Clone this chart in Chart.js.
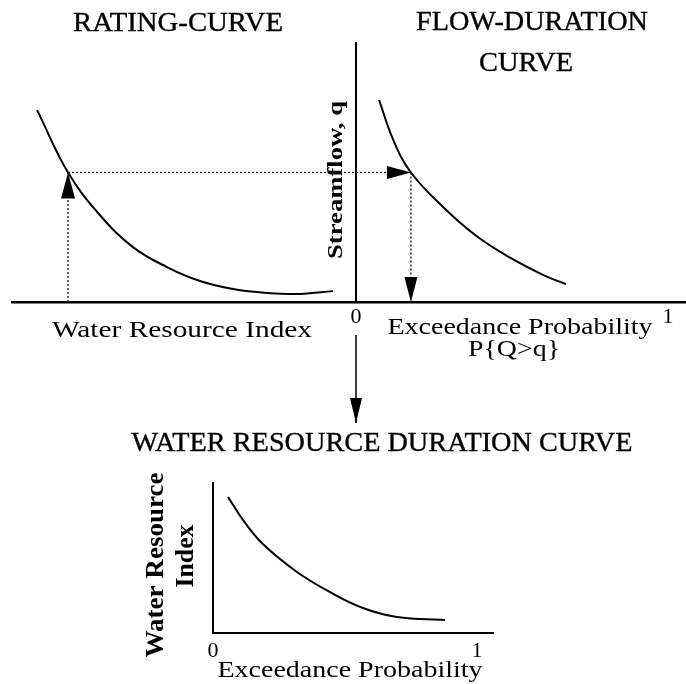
<!DOCTYPE html>
<html>
<head>
<meta charset="utf-8">
<title>Rating curve, flow-duration curve and water resource duration curve</title>
<script src="https://cdn.jsdelivr.net/npm/chart.js@4.4.1/dist/chart.umd.min.js"></script>
<style>
html,body{margin:0;padding:0;background:#fff;}
#wrap{position:relative;width:686px;height:684px;overflow:hidden;background:#fff;}
#wrap canvas{position:absolute;left:0;top:0;}
</style>
</head>
<body>
<div id="wrap">
<canvas id="topChart" width="686" height="684"></canvas>
<canvas id="bottomChart" width="686" height="684"></canvas>
</div>
<script>
// ---------------- data ----------------
// Rating curve (left panel): water resource index (grows to the left) vs streamflow q
const ratingIndex = [1.022, 0.923, 0.821, 0.715, 0.606, 0.500, 0.394, 0.285, 0.179, 0.074];
const ratingFlow  = [0.741, 0.500, 0.336, 0.212, 0.135, 0.081, 0.050, 0.035, 0.031, 0.042];
// Flow-duration curve (right panel): exceedance probability vs streamflow q
const fdcProb = [0.074, 0.120, 0.176, 0.279, 0.385, 0.494, 0.599, 0.673];
const fdcFlow = [0.780, 0.624, 0.500, 0.367, 0.256, 0.171, 0.105, 0.069];
// Water resource duration curve (bottom panel)
const wrdcProb  = [0.057, 0.114, 0.189, 0.318, 0.443, 0.568, 0.697, 0.879];
const wrdcIndex = [0.907, 0.753, 0.593, 0.407, 0.273, 0.167, 0.107, 0.087];
// Worked read-off: index -> streamflow -> probability
const readIndex = 0.923;
const readFlow  = 0.500;
const readProb  = 0.176;
// Transfer arrow from the top panel's origin down to the bottom panel (streamflow units)
const transferArrow = [-0.127, -0.467];
// Tick labels of the probability axes
const probTicks = [0, 1];

// ---------------- helpers ----------------
const SERIF = '"Liberation Serif", "Times New Roman", Times, serif';
const BLACK = '#000';

function setTicks(values) {
  return (axis) => { axis.ticks = values.map(v => ({ value: v })); };
}

const arrowHeads = {
  id: 'arrowHeads',
  afterDatasetsDraw(chart) {
    const ctx = chart.ctx;
    chart.data.datasets.forEach((ds, i) => {
      if (!ds.arrowHead) return;
      const pts = chart.getDatasetMeta(i).data;
      const tip = pts[pts.length - 1], prev = pts[pts.length - 2];
      const ang = Math.atan2(tip.y - prev.y, tip.x - prev.x);
      const { len, half } = ds.arrowHead;
      ctx.save();
      ctx.translate(tip.x, tip.y);
      ctx.rotate(ang);
      ctx.beginPath();
      ctx.moveTo(0, 0);
      ctx.lineTo(-len, -half);
      ctx.lineTo(-len, half);
      ctx.closePath();
      ctx.fillStyle = BLACK;
      ctx.fill();
      ctx.restore();
    });
  }
};

function textPlugin(id, items) {
  return {
    id,
    afterDraw(chart) {
      const ctx = chart.ctx;
      items.forEach(l => {
        ctx.save();
        ctx.font = (l.bold ? 'bold ' : '') + l.size + 'px ' + SERIF;
        const w = ctx.measureText(l.text).width;
        const sx = l.len ? l.len / w : 1;
        ctx.translate(l.x, l.y);
        if (l.rot) ctx.rotate(l.rot);
        ctx.scale(sx, 1);
        ctx.textAlign = 'center';
        ctx.textBaseline = 'middle';
        ctx.fillStyle = BLACK;
        ctx.fillText(l.text, 0, 0);
        if (l.heavy) {
          ctx.strokeStyle = BLACK;
          ctx.lineWidth = 0.35;
          ctx.strokeText(l.text, 0, 0);
        }
        ctx.restore();
      });
    }
  };
}

const curveStyle = { borderColor: BLACK, borderWidth: 2, pointRadius: 0, fill: false, tension: 0.4 };
const guideStyle = { borderColor: BLACK, borderWidth: 1.2, borderDash: [2, 2], pointRadius: 0, fill: false, tension: 0 };

// ---------------- top panel: rating curve + flow-duration curve ----------------
const topXMin = -1.1026, topXMax = 1.0577;

new Chart(document.getElementById('topChart'), {
  type: 'line',
  data: {
    datasets: [
      Object.assign({ label: 'Rating curve', xAxisID: 'xL', yAxisID: 'y',
        data: ratingIndex.map((w, i) => ({ x: w, y: ratingFlow[i] })) }, curveStyle),
      Object.assign({ label: 'Flow-duration curve', xAxisID: 'x', yAxisID: 'y',
        data: fdcProb.map((p, i) => ({ x: p, y: fdcFlow[i] })) }, curveStyle),
      Object.assign({ label: 'index read-up', xAxisID: 'xL', yAxisID: 'y',
        data: [{ x: readIndex, y: 0 }, { x: readIndex, y: readFlow }],
        arrowHead: { len: 26, half: 7 } }, guideStyle),
      Object.assign({ label: 'flow transfer', xAxisID: 'x', yAxisID: 'y',
        data: [{ x: -readIndex, y: readFlow }, { x: readProb, y: readFlow }],
        arrowHead: { len: 24, half: 6.5 } }, guideStyle),
      Object.assign({ label: 'probability read-down', xAxisID: 'x', yAxisID: 'y',
        data: [{ x: readProb, y: readFlow }, { x: readProb, y: 0 }],
        arrowHead: { len: 25, half: 6.5 } }, guideStyle),
      { label: 'transfer', xAxisID: 'x', yAxisID: 'y', clip: false,
        data: transferArrow.map(v => ({ x: 0, y: v })),
        borderColor: BLACK, borderWidth: 1.5, pointRadius: 0, fill: false,
        arrowHead: { len: 25, half: 6 } }
    ]
  },
  options: {
    responsive: false,
    animation: false,
    devicePixelRatio: 1,
    layout: { padding: { left: 12, right: 0, top: 43, bottom: 382 } },
    plugins: { legend: { display: false }, tooltip: { enabled: false }, title: { display: false } },
    scales: {
      x: {
        type: 'linear', min: topXMin, max: topXMax, position: { y: 0 },
        grid: { display: false, drawTicks: false },
        border: { display: true, color: BLACK, width: 2.5 },
        ticks: { color: BLACK, font: { family: SERIF, size: 22 }, padding: 2 },
        afterBuildTicks: setTicks(probTicks)
      },
      xL: { type: 'linear', reverse: true, min: -topXMax, max: -topXMin, display: false },
      y: {
        type: 'linear', min: 0, max: 1, position: { x: 0 },
        grid: { display: false, drawTicks: false },
        border: { display: true, color: BLACK, width: 2 },
        ticks: { display: false }
      }
    }
  },
  plugins: [arrowHeads, textPlugin('topText', [
    { text: 'RATING-CURVE', x: 178, y: 24, size: 27, len: 210, heavy: true },
    { text: 'FLOW-DURATION', x: 532, y: 23, size: 27, len: 232, heavy: true },
    { text: 'CURVE', x: 526, y: 64, size: 27, len: 94, heavy: true },
    { text: 'Streamflow, q', x: 336, y: 180, size: 22, bold: true, rot: -Math.PI / 2, len: 158 },
    { text: 'Water Resource Index', x: 182, y: 331, size: 24, len: 260 },
    { text: 'Exceedance Probability', x: 520, y: 328, size: 24, len: 265 },
    { text: 'P{Q>q}', x: 514, y: 350, size: 24, len: 92 }
  ])]
});

// ---------------- bottom panel: water resource duration curve ----------------
new Chart(document.getElementById('bottomChart'), {
  type: 'line',
  data: {
    datasets: [
      Object.assign({ label: 'Water resource duration curve', xAxisID: 'x', yAxisID: 'y',
        data: wrdcProb.map((p, i) => ({ x: p, y: wrdcIndex[i] })) }, curveStyle)
    ]
  },
  options: {
    responsive: false,
    animation: false,
    devicePixelRatio: 1,
    layout: { padding: { left: 213, right: 193, top: 483, bottom: 51 } },
    plugins: { legend: { display: false }, tooltip: { enabled: false }, title: { display: false } },
    scales: {
      x: {
        type: 'linear', min: 0, max: 1.0606, position: { y: 0 },
        grid: { display: false, drawTicks: false },
        border: { display: true, color: BLACK, width: 2 },
        ticks: { color: BLACK, font: { family: SERIF, size: 22 }, padding: 5 },
        afterBuildTicks: setTicks(probTicks)
      },
      y: {
        type: 'linear', min: 0, max: 1, position: { x: 0 },
        grid: { display: false, drawTicks: false },
        border: { display: true, color: BLACK, width: 2 },
        ticks: { display: false }
      }
    }
  },
  plugins: [textPlugin('bottomText', [
    { text: 'WATER RESOURCE DURATION CURVE', x: 382, y: 444, size: 28, len: 501, heavy: true },
    { text: 'Water Resource', x: 157, y: 565, size: 25, bold: true, rot: -Math.PI / 2, len: 185 },
    { text: 'Index', x: 187, y: 556, size: 25, bold: true, rot: -Math.PI / 2, len: 63 },
    { text: 'Exceedance Probability', x: 350, y: 671, size: 24, len: 265 }
  ])]
});
</script>
</body>
</html>
